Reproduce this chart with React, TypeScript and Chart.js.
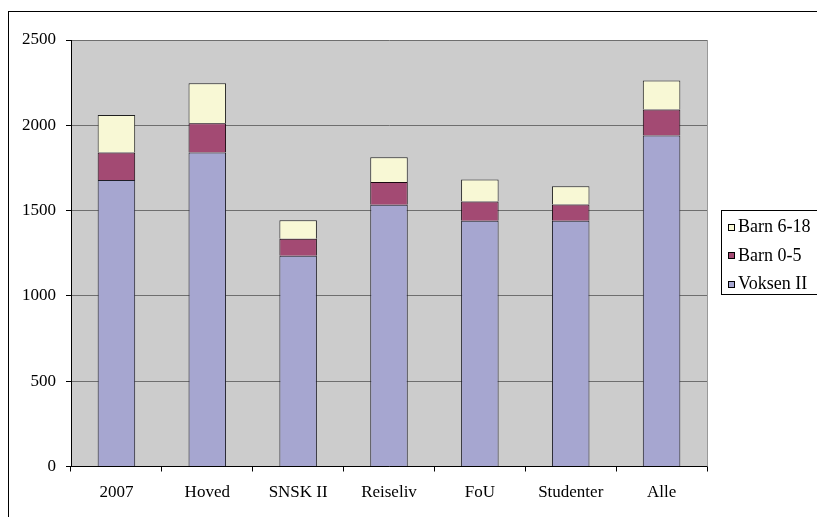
import React, { useEffect, useRef } from "react";
import { Chart, registerables } from "chart.js";

Chart.register(...registerables);

const categories = ["2007", "Hoved", "SNSK II", "Reiseliv", "FoU", "Studenter", "Alle"];
const voksenII = [1680, 1840, 1235, 1535, 1440, 1440, 1940];
const barn0to5 = [160, 172, 100, 132, 113, 96, 152];
const barn6to18 = [220, 235, 108, 145, 130, 106, 170];
const yTicks = [0, 500, 1000, 1500, 2000, 2500];

const FONT = "'Liberation Serif', 'Times New Roman', serif";

const framePlugin = {
  id: "frame",
  beforeDraw(chart: any) {
    const { ctx, chartArea } = chart;
    ctx.save();
    ctx.fillStyle = "#ffffff";
    ctx.fillRect(0, 0, chart.width, chart.height);
    ctx.fillStyle = "#cccccc";
    ctx.fillRect(chartArea.left, chartArea.top, chartArea.right - chartArea.left, chartArea.bottom - chartArea.top);
    ctx.strokeStyle = "#000000";
    ctx.lineWidth = 1;
    ctx.strokeRect(8.5, 11.5, 900, 600);
    ctx.restore();
  },
  afterDraw(chart: any) {
    const { ctx, chartArea } = chart;
    ctx.save();
    ctx.strokeStyle = "#999999";
    ctx.lineWidth = 1;
    ctx.beginPath();
    ctx.moveTo(Math.round(chartArea.right) + 0.5, chartArea.top);
    ctx.lineTo(Math.round(chartArea.right) + 0.5, chartArea.bottom);
    ctx.stroke();
    const lx = 721.5, ly = 210.5, lw = 120, lh = 84;
    ctx.fillStyle = "#ffffff";
    ctx.fillRect(lx, ly, lw, lh);
    ctx.strokeStyle = "#000000";
    ctx.strokeRect(lx, ly, lw, lh);
    const ds = chart.data.datasets.slice().reverse();
    ctx.font = "18px " + FONT;
    ctx.textBaseline = "middle";
    ctx.textAlign = "left";
    ds.forEach((d: any, i: number) => {
      const cy = 226.5 + i * 28.5;
      ctx.fillStyle = d.backgroundColor;
      ctx.fillRect(728.5, Math.round(cy - 3) + 0.5, 6, 6);
      ctx.strokeStyle = "#000000";
      ctx.strokeRect(728.5, Math.round(cy - 3) + 0.5, 6, 6);
      ctx.fillStyle = "#000000";
      ctx.fillText(d.label, 738, cy + 1);
    });
    ctx.restore();
  },
};

export default function App() {
  const ref = useRef<HTMLCanvasElement | null>(null);
  useEffect(() => {
    if (!ref.current) return;
    const chart = new Chart(ref.current, {
      type: "bar",
      data: {
        labels: categories,
        datasets: [
          { label: "Voksen II", data: voksenII, backgroundColor: "#a6a6d0", borderColor: "#1e1e28", borderWidth: 1 },
          { label: "Barn 0-5", data: barn0to5, backgroundColor: "#a34a73", borderColor: "#1a0810", borderWidth: 1 },
          { label: "Barn 6-18", data: barn6to18, backgroundColor: "#f8f8d5", borderColor: "#202020", borderWidth: 1 },
        ],
      },
      options: {
        responsive: false,
        animation: false,
        devicePixelRatio: 1,
        layout: { padding: { left: 0, right: 110, top: 40, bottom: 0 } },
        datasets: { bar: { categoryPercentage: 1, barPercentage: 0.413 } },
        plugins: { legend: { display: false }, tooltip: { enabled: false }, title: { display: false } },
        scales: {
          x: {
            stacked: true,
            offset: true,
            grid: { offset: true, drawOnChartArea: false, tickLength: 5, color: "#000000" },
            border: { color: "#000000", width: 1 },
            ticks: { color: "#000000", font: { family: FONT, size: 17 }, padding: 11, maxRotation: 0 },
            afterFit: (s: any) => { s.height = 50.5; },
          },
          y: {
            stacked: true,
            min: 0,
            max: 2500,
            afterBuildTicks: (s: any) => { s.ticks = yTicks.map((v) => ({ value: v })); },
            grid: { color: "#6e6e6e", tickColor: "#000000", tickLength: 5 },
            border: { color: "#000000", width: 1 },
            ticks: { color: "#000000", font: { family: FONT, size: 17 }, padding: 10, callback: (v: any) => String(v) },
            afterFit: (s: any) => { s.width = 71; },
          },
        },
      },
      plugins: [framePlugin],
    });
    return () => chart.destroy();
  }, []);
  return (
    <div style={{ position: "fixed", left: 0, top: 0, width: 817, height: 517 }}>
      <canvas ref={ref} width={817} height={517} style={{ display: "block" }} />
    </div>
  );
}
